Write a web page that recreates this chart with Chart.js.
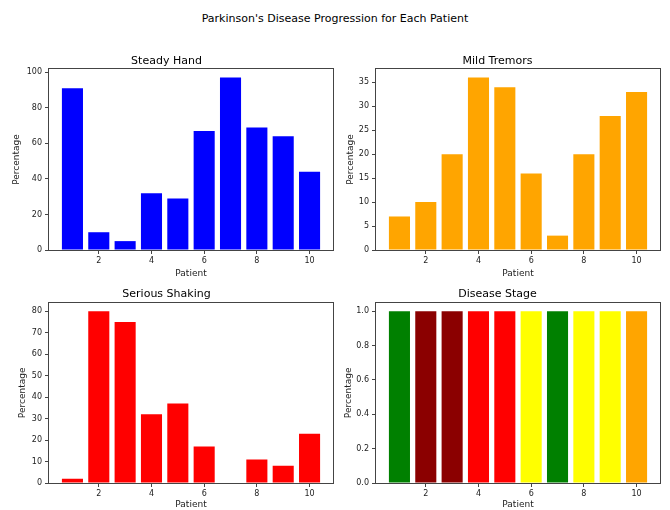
<!DOCTYPE html>
<html>
<head>
<meta charset="utf-8">
<script src="https://cdn.jsdelivr.net/npm/chart.js@4.4.1/dist/chart.umd.min.js"></script>
<style>
  html, body { margin: 0; padding: 0; background: #fff; overflow: hidden; }
  #page { position: relative; width: 670px; height: 510px; }
  #suptitle { position: absolute; left: 0; top: 12px; width: 670px; text-align: center;
    font-family: "DejaVu Sans"; font-size: 11px; line-height: 13px; color: #000; }
  .cell { position: absolute; }
</style>
</head>
<body>
<div id="page">
  <div id="suptitle">Parkinson's Disease Progression for Each Patient</div>
  <div class="cell" style="left:0px;top:45px;"><canvas id="c1" width="335" height="235"></canvas></div>
  <div class="cell" style="left:335px;top:45px;"><canvas id="c2" width="335" height="235"></canvas></div>
  <div class="cell" style="left:0px;top:280px;"><canvas id="c3" width="335" height="230"></canvas></div>
  <div class="cell" style="left:335px;top:280px;"><canvas id="c4" width="335" height="230"></canvas></div>
</div>
<script>
// ---- data ----
const patients = [1, 2, 3, 4, 5, 6, 7, 8, 9, 10];
const steadyHand = [91, 10, 5, 32, 29, 67, 97, 69, 64, 44];
const mildTremors = [7, 10, 20, 36, 34, 16, 3, 20, 28, 33];
const seriousShaking = [2, 80, 75, 32, 37, 17, 0, 11, 8, 23];
const diseaseStage = [1, 1, 1, 1, 1, 1, 1, 1, 1, 1];
const stageColors = ['#008000', '#8b0000', '#8b0000', '#ff0000', '#ff0000', '#ffff00', '#008000', '#ffff00', '#ffff00', '#ffa500'];
const xTicks = [2, 4, 6, 8, 10];
const steadyTicks = [0, 20, 40, 60, 80, 100];
const mildTicks = [0, 5, 10, 15, 20, 25, 30, 35];
const seriousTicks = [0, 10, 20, 30, 40, 50, 60, 70, 80];
const stageTicks = [0, 0.2, 0.4, 0.6, 0.8, 1.0];

const FONT = 'DejaVu Sans';
const boxPlugin = {
  id: 'spineBox',
  afterDraw(chart) {
    const a = chart.chartArea, ctx = chart.ctx;
    ctx.save();
    ctx.strokeStyle = '#444';
    ctx.lineWidth = 1;
    ctx.strokeRect(Math.round(a.left) - 0.5, Math.round(a.top) - 0.5,
      Math.round(a.right - a.left) + 1, Math.round(a.bottom - a.top) + 1);
    ctx.restore();
  }
};

function makeChart(id, p) {
  const ymax = Math.max(...p.values) * 1.05;
  return new Chart(document.getElementById(id), {
    type: 'bar',
    data: {
      datasets: [{
        data: patients.map((x, i) => ({ x: x, y: p.values[i] })),
        backgroundColor: p.color,
        borderWidth: 0,
        barPercentage: 0.8,
        categoryPercentage: 1.0
      }]
    },
    plugins: [boxPlugin],
    options: {
      responsive: false,
      animation: false,
      layout: { padding: { left: 0, right: p.padRight, top: 0, bottom: 0 } },
      plugins: {
        legend: { display: false },
        tooltip: { enabled: false },
        title: {
          display: true, text: p.title, color: '#000',
          font: { family: FONT, size: 11, weight: 'normal' },
          padding: p.titlePad
        }
      },
      scales: {
        x: {
          type: 'linear', min: 0.11, max: 10.89, offset: false,
          grid: { display: true, drawOnChartArea: false, drawTicks: true, tickLength: 4, tickColor: '#444', offset: false },
          border: { display: false },
          afterBuildTicks: s => { s.ticks = xTicks.map(v => ({ value: v })); },
          afterFit: s => { s.height = p.xAxisH; },
          ticks: { color: '#222', font: { family: FONT, size: 8 }, padding: 2, maxRotation: 0, autoSkip: false },
          title: { display: true, text: 'Patient', color: '#222', font: { family: FONT, size: 9 }, padding: { top: 0, bottom: p.xTitlePad } }
        },
        y: {
          type: 'linear', min: 0, max: ymax,
          grid: { display: true, drawOnChartArea: false, drawTicks: true, tickLength: 4, tickColor: '#444' },
          border: { display: false },
          afterBuildTicks: s => { s.ticks = p.ticks.map(v => ({ value: v })); },
          afterFit: s => { s.width = p.yAxisW; },
          ticks: {
            color: '#222', font: { family: FONT, size: 8 }, padding: 3, autoSkip: false,
            callback: p.fmt || (v => String(v))
          },
          title: { display: true, text: 'Percentage', color: '#222', font: { family: FONT, size: 9 }, padding: { top: p.yTitlePad, bottom: 0 } }
        }
      }
    }
  });
}

makeChart('c1', { title: 'Steady Hand', values: steadyHand, color: '#0000ff', ticks: steadyTicks,
  yAxisW: 49, xAxisH: 30, padRight: 2, titlePad: { top: 9.5, bottom: 1.3 }, yTitlePad: 10.9, xTitlePad: 1 });
makeChart('c2', { title: 'Mild Tremors', values: mildTremors, color: '#ffa500', ticks: mildTicks,
  yAxisW: 41, xAxisH: 30, padRight: 10, titlePad: { top: 9.5, bottom: 1.3 }, yTitlePad: 10.6, xTitlePad: 1 });
makeChart('c3', { title: 'Serious Shaking', values: seriousShaking, color: '#ff0000', ticks: seriousTicks,
  yAxisW: 49, xAxisH: 27, padRight: 2, titlePad: { top: 7.4, bottom: 2.1 }, yTitlePad: 17.6, xTitlePad: 0 });
makeChart('c4', { title: 'Disease Stage', values: diseaseStage, color: stageColors, ticks: stageTicks,
  yAxisW: 41, xAxisH: 27, padRight: 10, titlePad: { top: 7.4, bottom: 2.1 }, yTitlePad: 8.3, xTitlePad: 0,
  fmt: v => Number(v).toFixed(1) });
</script>
</body>
</html>
